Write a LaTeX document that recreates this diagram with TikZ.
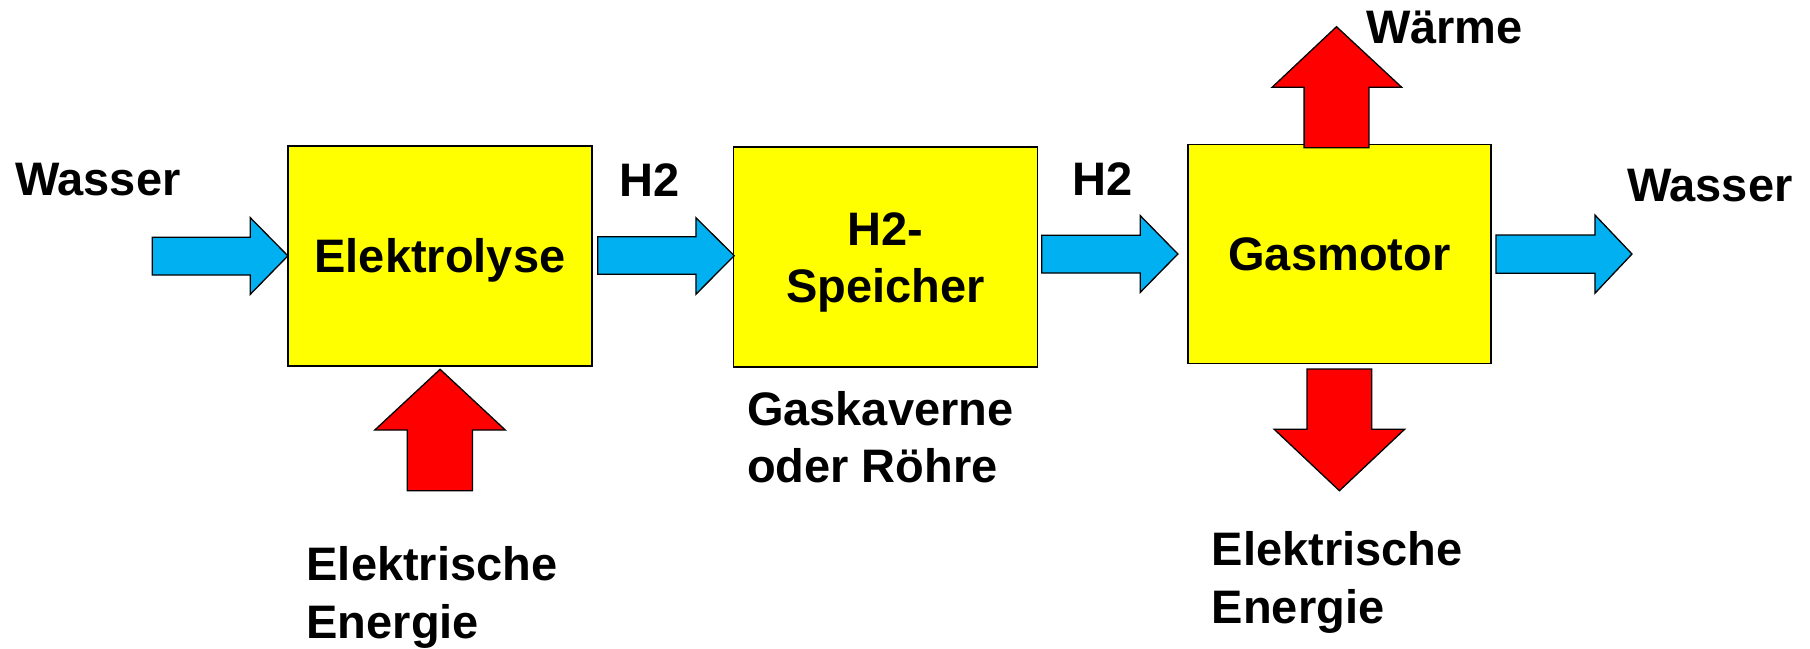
\documentclass[tikz,border=0pt]{standalone}
\usepackage{fontspec}
\setmainfont{Liberation Sans}
\definecolor{boxyellow}{RGB}{255,255,0}
\definecolor{flowblue}{RGB}{0,176,240}
\definecolor{energyred}{RGB}{255,0,0}
\begin{document}
\begin{tikzpicture}[x=1pt,y=-1pt,
  every node/.style={font=\fontsize{47}{57.5}\selectfont\bfseries, inner sep=0pt, outer sep=0pt},
  procbox/.style={draw=black, line width=1.6pt, fill=boxyellow, align=center,
    text height=33.7pt, text depth=0pt},
  bluearrow/.style={draw=black, line width=1.3pt, fill=flowblue, line join=miter},
  redarrow/.style={draw=black, line width=1.3pt, fill=energyred, line join=miter},
  lbl/.style={anchor=base west, align=left}
]
\useasboundingbox (0,0) rectangle (1810,648);
\fill[white] (0,0) rectangle (1810,648);

% process boxes
\node[procbox, minimum width=304pt, minimum height=219.7pt] (elek) at (439.9,255.85) {Elektrolyse};
\node[procbox, minimum width=304pt, minimum height=219.7pt, text height=91.2pt] (spei) at (885.45,257) {H2-\\Speicher};
\node[procbox, minimum width=303pt, minimum height=219pt] (gasm) at (1339.4,253.8) {Gasmotor};

% labels (multi-line nodes: base is the last line's baseline)
\node[lbl] (wasserin) at (15,195) {Wasser};
\node[anchor=base] (h2a) at (649.4,196.7) {H2};
\node[anchor=base] (h2b) at (1103,195) {H2};
\node[lbl] (waerme) at (1366,43.3) {Wärme};
\node[lbl] (wasserout) at (1627,201.7) {Wasser};
\node[lbl] (kaverne) at (747,482.7) {Gaskaverne\\oder Röhre};
\node[lbl] (energin) at (306.6,638.3) {Elektrische\\Energie};
\node[lbl] (energout) at (1211.8,623.3) {Elektrische\\Energie};

% blue flow arrows
\draw[bluearrow] (152.2,237.3) -- (250.3,237.3) -- (250.3,217.7) -- (elek.west) -- (250.3,294.3) -- (250.3,275) -- (152.2,275) -- cycle;
\draw[bluearrow] (597.8,236.7) -- (695.9,236.7) -- (695.9,217.7) -- (734.2,255.7) -- (695.9,294.3) -- (695.9,274.3) -- (597.8,274.3) -- cycle;
\draw[bluearrow] (1041.8,235.3) -- (1140.3,235.3) -- (1140.3,215.7) -- (1177.9,254) -- (1140.3,292.3) -- (1140.3,273) -- (1041.8,273) -- cycle;
\draw[bluearrow] (1496,235) -- (1594.9,235) -- (1594.9,215) -- (1632,254) -- (1594.9,293.3) -- (1594.9,273.3) -- (1496,273.3) -- cycle;

% red energy arrows
\draw[redarrow] (407.3,490.7) -- (407.3,430) -- (374.8,430) -- (440.1,369.3) -- (505.3,430) -- (472.5,430) -- (472.5,490.7) -- cycle;
\draw[redarrow] (1304.1,147.7) -- (1304.1,87.3) -- (1272.1,87.3) -- (1336.5,26.7) -- (1401.7,87.3) -- (1368.9,87.3) -- (1368.9,147.7) -- cycle;
\draw[redarrow] (1307,369) -- (1371.8,369) -- (1371.8,429.3) -- (1404.6,429.3) -- (1339.4,490.7) -- (1274.2,429.3) -- (1307,429.3) -- cycle;
\end{tikzpicture}
\end{document}
